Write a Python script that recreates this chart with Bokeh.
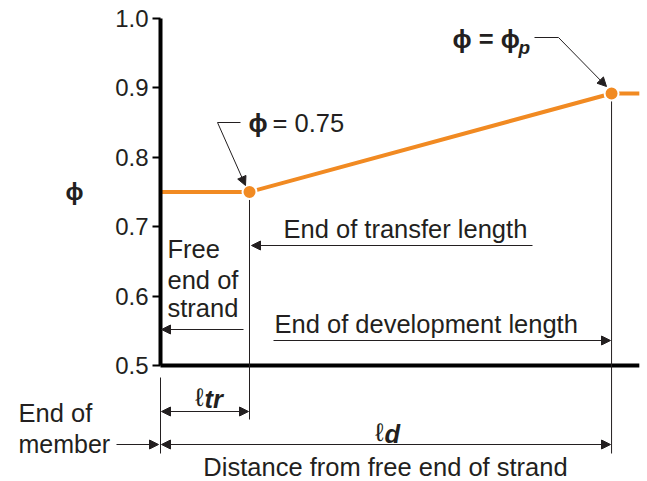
from bokeh.plotting import figure
from bokeh.models import Range1d, Label, Arrow, NormalHead, FixedTicker, PrintfTickFormatter
from bokeh.embed import file_html
from bokeh.resources import INLINE

# ---- data ----
x_free = 0.0          # free end of strand (in)
x_tr = 25.0           # transfer length (in)
x_d = 126.7           # development length (in)
x_end = 134.5         # end of plotted member
phi_min = 0.75
phi_p = 0.892
distance = [x_free, x_tr, x_d, x_end]
phi = [phi_min, phi_min, phi_p, phi_p]
key_x = [x_tr, x_d]
key_phi = [phi_min, phi_p]
y_ticks = [0.5, 0.6, 0.7, 0.8, 0.9, 1.0]

# ---- layout helpers (picture pixels -> data) ----
PXX = 89.0 / x_tr      # px per unit of distance
PXY = 694.0            # px per unit of phi
def dx(px):
    return (px - 160.0) / PXX
def dy(py):
    return 0.5 + (365.0 - py) / PXY

INK = "#231F20"
ORANGE = "#F18A22"
FONT = "Liberation Sans"
FS = "25.5px"
PHI = "ϕ"

W, H = 647, 481
p = figure(width=W, height=H, output_backend="svg", toolbar_location=None,
           x_range=Range1d(dx(0), dx(W)), y_range=Range1d(dy(H), dy(0)),
           min_border_left=0, min_border_right=0, min_border_top=0,
           min_border_bottom=0, x_axis_location=None)
p.outline_line_color = None
p.grid.visible = False
p.background_fill_color = "white"
p.border_fill_color = "white"

ax = p.yaxis[0]
ax.fixed_location = x_free
ax.bounds = (0.5, 1.0)
ax.ticker = FixedTicker(ticks=y_ticks)
ax.formatter = PrintfTickFormatter(format="%.1f")
ax.minor_tick_line_color = None
ax.axis_line_width = 4
ax.axis_line_color = "black"
ax.major_tick_line_width = 2
ax.major_tick_line_color = "black"
ax.major_tick_in = 0
ax.major_tick_out = 8
ax.major_label_standoff = 4
ax.major_label_text_font = FONT
ax.major_label_text_font_size = "24px"
ax.major_label_text_color = INK

# bottom axis line (phi = 0.5 baseline)
p.segment(x0=[x_free], y0=[y_ticks[0]], x1=[x_end], y1=[y_ticks[0]],
          line_color="black", line_width=4)

# vertical guide lines
p.segment(x0=[x_tr, x_d, x_free], y0=[phi_min, phi_p, dy(377)],
          x1=[x_tr, x_d, x_free], y1=[dy(419), dy(453), dy(453)],
          line_color=INK, line_width=1)

# phi curve
p.line(distance, phi, line_color=ORANGE, line_width=4)
p.scatter(key_x, key_phi, size=14, fill_color=ORANGE, line_color="white", line_width=2)

def arrow(x0, y0, x1, y1, head_end=True, head_start=False):
    kw = dict(x_start=dx(x0), y_start=dy(y0), x_end=dx(x1), y_end=dy(y1),
              line_color=INK, line_width=1)
    kw["end"] = NormalHead(size=9, fill_color=INK, line_color=INK, line_width=1) if head_end else None
    kw["start"] = NormalHead(size=9, fill_color=INK, line_color=INK, line_width=1) if head_start else None
    p.add_layout(Arrow(**kw))

def label(text, x, y, align="left", size=FS, style="normal"):
    p.add_layout(Label(x=dx(x), y=dy(y), text=text, text_align=align, text_baseline="middle",
                       text_font=FONT, text_font_size=size, text_font_style=style,
                       text_color=INK))

# y axis title
label(PHI, 74, 191, align="center", size="24px", style="bold")

# phi = phi_p callout
label(PHI + " = " + PHI, 452, 38, style="bold")
label("p", 518, 47, size="19px", style="bold italic")
arrow(534, 37, 558, 37, head_end=False)
arrow(558, 37, 606, 86)

# phi = 0.75 callout
label(PHI, 248, 122, style="bold")
label("= 0.75", 272, 122)
arrow(240, 122, 217, 122, head_end=False)
arrow(217, 122, 245, 185)

# inner annotations
label("End of transfer length", 283, 228)
arrow(532, 245, 251, 245)
label("Free", 167, 248)
label("end of", 167, 279)
label("strand", 167, 307)
arrow(243, 329, 161, 329)
label("End of development length", 274, 323)
arrow(273, 340, 610, 340)

# dimension lines below axis
label("ℓ", 203, 396, align="right")
label("tr", 204, 398, style="bold italic")
arrow(161, 411, 248, 411, head_start=True)
label("ℓ", 383, 431, align="right")
label("d", 384, 433, style="bold italic")
arrow(161, 444, 610, 444, head_start=True)
label("End of", 18, 412)
label("member", 18, 443, size="25px")
arrow(116, 444, 158, 444)
label("Distance from free end of strand", 385, 466, align="center")

open("out.html", "w").write(file_html(p, INLINE))
